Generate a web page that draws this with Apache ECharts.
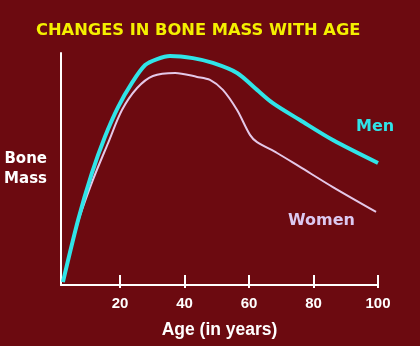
<!DOCTYPE html>
<html><head><meta charset="utf-8">
<script src="https://cdn.jsdelivr.net/npm/echarts@6/dist/echarts.min.js"></script>
<style>html,body{margin:0;padding:0;background:#6c0a10}#c{width:420px;height:346px}</style>
</head><body><div id="c"></div>
<script>
const menAges = [2.3, 7.0, 11.3, 15.3, 19.4, 23.7, 27.8, 31.5, 35.5, 42.6, 48.8, 56.3, 62.5, 67.4, 75.8, 86.0, 100];
const menMass = [1.3, 28.0, 48.3, 63.8, 76.7, 87.1, 94.8, 97.4, 98.7, 97.8, 95.7, 91.4, 84.1, 78.4, 71.1, 62.5, 52.6];
const womenAges = [2.3, 7.0, 11.6, 16.3, 20.6, 25.3, 30.2, 37.1, 43.9, 47.9, 51.9, 56.3, 60.3, 62.5, 68.7, 75.8, 86.0, 99.4];
const womenMass = [1.3, 27.2, 45.3, 61.2, 75.4, 84.9, 90.1, 91.4, 89.7, 88.4, 84.1, 75.4, 64.7, 61.6, 56.9, 50.9, 42.2, 31.5];
const tickAges = [20, 40, 60, 80, 100];

const zip = (a, b) => a.map((x, i) => [x, b[i]]);
const font = 'Liberation Sans, Arial, sans-serif';
const wide = 'DejaVu Sans, sans-serif';
const chart = echarts.init(document.getElementById('c'));
chart.setOption({
  backgroundColor: '#6c0a10',
  animation: false,
  title: {
    text: 'CHANGES IN BONE MASS WITH AGE',
    left: 31, top: 18,
    textStyle: { color: '#f4f000', fontSize: 16.3, fontWeight: 'bold', fontFamily: wide }
  },
  grid: { left: 61, right: 42, top: 53, bottom: 61 },
  xAxis: [{
    type: 'value', min: 1.7, max: 100,
    name: 'Age (in years)', nameLocation: 'middle', nameGap: 36,
    nameTextStyle: { color: '#ffffff', fontSize: 17.5, fontWeight: 'bold', fontFamily: font },
    axisLine: { show: true, lineStyle: { color: '#ffffff', width: 2 } },
    axisTick: { show: true, inside: true, length: 10, customValues: tickAges, lineStyle: { color: '#ffffff', width: 2 } },
    axisLabel: { customValues: tickAges, color: '#ffffff', fontSize: 15, fontWeight: 'bold', fontFamily: font, margin: 11 },
    splitLine: { show: false }
  }, {
    type: 'value', min: 1.7, max: 100, position: 'bottom',
    axisLine: { show: false },
    axisTick: { show: true, inside: false, length: 3, customValues: tickAges, lineStyle: { color: '#ffffff', width: 2 } },
    axisLabel: { show: false },
    splitLine: { show: false }
  }],
  yAxis: {
    type: 'value', min: 0, max: 100,
    name: 'Bone\nMass', nameLocation: 'middle', nameRotate: 0, nameGap: 14,
    nameTextStyle: { color: '#ffffff', fontSize: 15, fontWeight: 'bold', fontFamily: wide, lineHeight: 20, align: 'right' },
    axisLine: { show: true, lineStyle: { color: '#ffffff', width: 2 } },
    axisTick: { show: false }, axisLabel: { show: false }, splitLine: { show: false }
  },
  series: [{
    name: 'Women', type: 'line', smooth: 0.3, symbol: 'none',
    data: zip(womenAges, womenMass),
    lineStyle: { color: '#e4c8e8', width: 2 }
  }, {
    name: 'Men', type: 'line', smooth: 0.3, symbol: 'none',
    data: zip(menAges, menMass),
    lineStyle: { color: '#30e4e8', width: 4 }
  }],
  graphic: [
    { type: 'text', left: 356, top: 119, style: { text: 'Men', fill: '#30e4e8', font: 'bold 16px ' + wide } },
    { type: 'text', left: 288, top: 213, style: { text: 'Women', fill: '#dcc8f0', font: 'bold 16px ' + wide } }
  ]
});
</script></body></html>
